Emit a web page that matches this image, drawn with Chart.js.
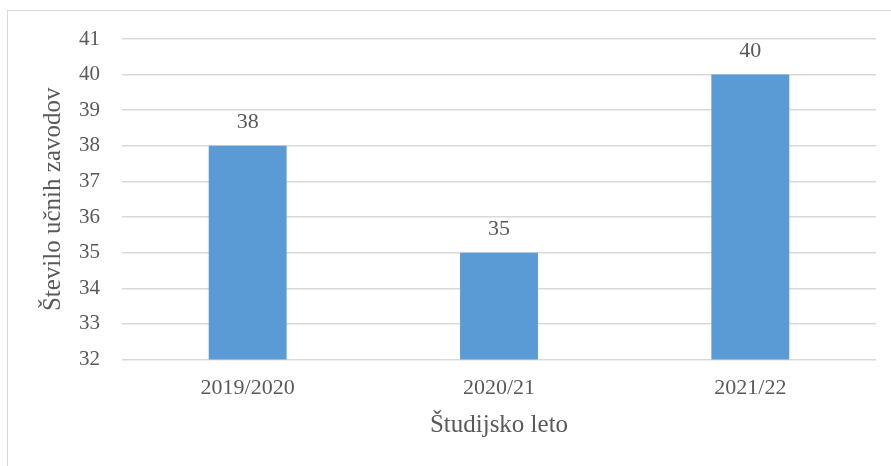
<!DOCTYPE html>
<html>
<head>
<meta charset="utf-8">
<script src="https://cdn.jsdelivr.net/npm/chart.js@4/dist/chart.umd.min.js"></script>
<style>
  html, body { margin: 0; padding: 0; background: #fff; overflow: hidden; }
  #frame {
    position: absolute; left: 7px; top: 10px; width: 900px; height: 470px;
    border: 1.5px solid #d9d9d9; box-sizing: border-box;
  }
  #chart { position: absolute; left: 0; top: 0; }
</style>
</head>
<body>
<div id="frame"></div>
<canvas id="chart" width="891" height="466"></canvas>
<script>
// --- data ---
const years = ['2019/2020', '2020/21', '2021/22'];
const institutions = [38, 35, 40];
const yMin = 32;
const yMax = 41;

const FONT = "'Liberation Serif', 'Times New Roman', serif";
const TEXT = '#595959';

// simple value labels above each bar
const barLabels = {
  id: 'barLabels',
  afterDatasetsDraw(chart) {
    const ctx = chart.ctx;
    const meta = chart.getDatasetMeta(0);
    ctx.save();
    ctx.font = '22px ' + FONT;
    ctx.fillStyle = TEXT;
    ctx.textAlign = 'center';
    ctx.textBaseline = 'alphabetic';
    meta.data.forEach((bar, i) => {
      ctx.fillText(String(institutions[i]), bar.x, bar.y - 18);
    });
    ctx.restore();
  }
};

new Chart(document.getElementById('chart'), {
  type: 'bar',
  data: {
    labels: years,
    datasets: [{
      data: institutions,
      backgroundColor: '#5b9bd5',
      borderWidth: 0,
      categoryPercentage: 1,
      barPercentage: 0.31
    }]
  },
  options: {
    responsive: false,
    devicePixelRatio: 1,
    animation: false,
    layout: { padding: { left: 0, top: 39, right: 15, bottom: 26 } },
    plugins: {
      legend: { display: false },
      tooltip: { enabled: false }
    },
    scales: {
      x: {
        grid: { display: false, drawTicks: false },
        border: { display: false },
        ticks: { color: TEXT, font: { family: FONT, size: 22 }, padding: 15 },
        title: {
          display: true,
          text: 'Študijsko leto',
          color: TEXT,
          font: { family: FONT, size: 25 },
          padding: { top: -6, bottom: 0 }
        }
      },
      y: {
        min: yMin,
        max: yMax,
        grid: { color: '#d9d9d9', lineWidth: 1.5, drawTicks: false },
        border: { display: false },
        ticks: { stepSize: 1, color: TEXT, font: { family: FONT, size: 21 }, padding: 22 },
        title: {
          display: true,
          text: 'Število učnih zavodov',
          color: TEXT,
          font: { family: FONT, size: 25 },
          padding: { top: 38, bottom: 0 }
        },
        afterFit(scale) { scale.width = 122; }
      }
    }
  },
  plugins: [barLabels]
});
</script>
</body>
</html>
